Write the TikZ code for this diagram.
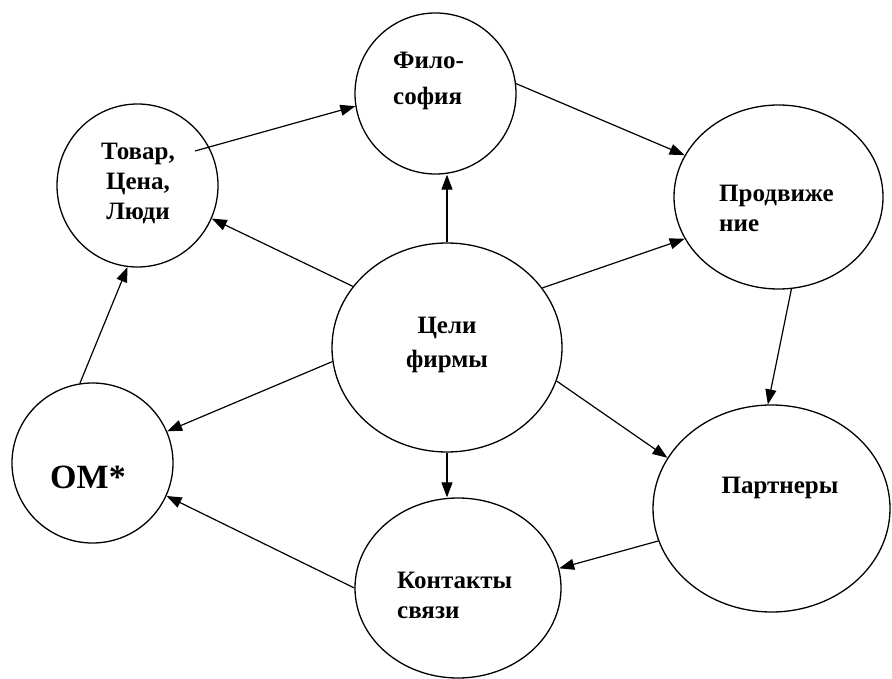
\documentclass[tikz,border=0pt]{standalone}
\usepackage{fontspec}
\setmainfont{Liberation Serif}
\usetikzlibrary{shapes.geometric,arrows.meta}
\begin{document}
\begin{tikzpicture}[x=1pt,y=-1pt,
  bub/.style={draw,ellipse,line width=1.3pt,inner sep=0pt},
  lbl/.style={font=\fontsize{25}{30}\selectfont\bfseries,inner sep=0pt},
  arr/.style={line width=1.2pt,-{Triangle[length=15pt,width=11pt]}}]
\useasboundingbox (0,0) rectangle (892,679);
% bubbles
\node[bub,minimum width=161pt,minimum height=161pt] (fil) at (435.5,93.5) {};
\node[bub,minimum width=161pt,minimum height=163pt] (tov) at (137.5,185.5) {};
\node[bub,minimum width=209pt,minimum height=184pt] (pro) at (778.5,197) {};
\node[bub,minimum width=230pt,minimum height=209pt] (cel) at (447,347.5) {};
\node[bub,minimum width=161pt,minimum height=160pt] (om) at (92.5,463) {};
\node[bub,minimum width=237pt,minimum height=207pt] (par) at (771.5,508.5) {};
\node[bub,minimum width=206pt,minimum height=180pt] (kon) at (458,588) {};
% labels
\node[lbl,font=\fontsize{25}{36}\selectfont\bfseries,align=left,anchor=west] (tfil) at (393,81) {Фило-\\софия};
\node[lbl,align=center] (ttov) at (138,183) {Товар,\\Цена,\\Люди};
\node[lbl,align=left,anchor=west] (tpro) at (719,208) {Продвиже\\ние};
\node[lbl,font=\fontsize{25}{34}\selectfont\bfseries,align=center] (tcel) at (447,345) {Цели\\фирмы};
\node[lbl,font=\fontsize{34}{40}\selectfont\bfseries] (tom) at (88,477) {ОМ*};
\node[lbl] (tpar) at (780,488) {Партнеры};
\node[lbl,align=left,anchor=west] (tkon) at (397,595) {Контакты\\связи};
% connectors
\draw[arr] ([shift={(57.5,-34.5)}]tov.center) -- (fil.189);
\draw[arr] (cel.147) -- (tov.-24);
\draw[arr] (om.99) -- (tov.263);
\draw[arr] (cel.north) -- (cel.north |- fil.south);
\draw[arr] (fil.7) -- (pro.156);
\draw[arr] (cel.32) -- (pro.204);
\draw[arr] (pro.278) -- (par.92);
\draw[arr] (cel.-17) -- (par.154);
\draw[arr] (cel.south) -- (cel.south |- kon.north);
\draw[arr] (par.196) -- (kon.11);
\draw[arr] (cel.187) -- (om.23);
\draw[arr] (kon.180) -- (om.336);
\end{tikzpicture}
\end{document}
